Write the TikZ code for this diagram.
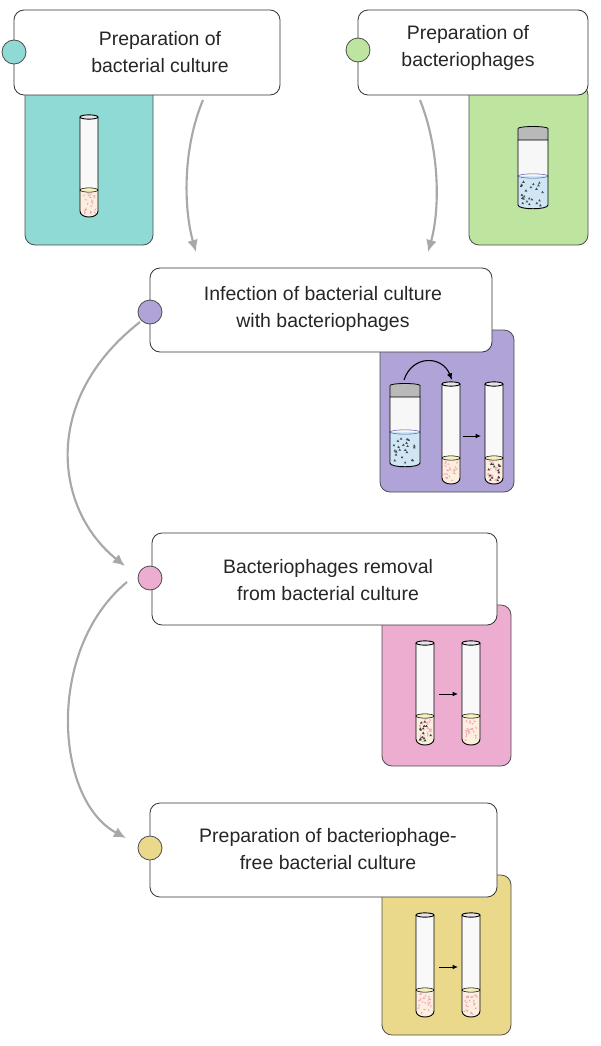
\documentclass[tikz,border=0pt]{standalone}
\usepackage{fontspec}
\usetikzlibrary{arrows.meta}
\setmainfont{Liberation Sans}
\definecolor{cteal}{HTML}{8FDAD5}
\definecolor{cgreen}{HTML}{BDE5A0}
\definecolor{cpurple}{HTML}{AFA3D8}
\definecolor{cpink}{HTML}{ECADD0}
\definecolor{cyellow}{HTML}{EAD98A}
\definecolor{cbact}{HTML}{F3A3C0}
\definecolor{cliq}{HTML}{FCEFDD}
\definecolor{cliqtop}{HTML}{F4F0C0}
\definecolor{cblue}{HTML}{CFE6F5}
\definecolor{carrow}{HTML}{A8A8A8}
\newcommand\tubeAt[6]{%
  \pgfmathsetmacro\tR{#1+#5}\pgfmathsetmacro\tBm{#3-7}\pgfmathsetmacro\tBc{#3+1}%
  \pgfmathsetmacro\tM{#1+#5/2}\pgfmathsetmacro\tH{#5/2}%
  \fill[gray!5] (#1,#2)--(#1,\tBm) .. controls (#1,\tBc) and (\tR,\tBc) .. (\tR,\tBm)--(\tR,#2)--cycle;
  \fill[cliq] (#1,#4)--(#1,\tBm) .. controls (#1,\tBc) and (\tR,\tBc) .. (\tR,\tBm)--(\tR,#4)--cycle;
  \foreach \i in {1,...,22}{\pgfmathsetmacro\dx{#1+2.5+rnd*(#5-5)}\pgfmathsetmacro\dy{#4+3+rnd*(#3-#4-7)}
    \fill[cbact,rotate around={rnd*180:(\dx,\dy)}] (\dx,\dy) ellipse[x radius=1.1pt,y radius=0.5pt];}
  \ifnum#6=1 \foreach \i in {1,...,14}{\pgfmathsetmacro\dx{#1+3+rnd*(#5-6)}\pgfmathsetmacro\dy{#4+4+rnd*(#3-#4-9)}
    \fill[black!75] (\dx,\dy)--++(1.3,2.2)--++(-2.6,0)--cycle;}\fi
  \draw[fill=cliqtop,line width=0.4pt] (\tM,#4) ellipse[x radius=\tH*0.75pt,y radius=1.6pt];
  \draw[line width=0.7pt] (#1,#2)--(#1,\tBm) .. controls (#1,\tBc) and (\tR,\tBc) .. (\tR,\tBm)--(\tR,#2);
  \draw[line width=0.7pt,fill=gray!20] (\tM,#2) ellipse[x radius=\tH*0.75pt,y radius=1.6pt];
}
\newcommand\jarAt[5]{%
  \pgfmathsetmacro\tR{#1+#5}\pgfmathsetmacro\tM{#1+#5/2}\pgfmathsetmacro\tH{#5/2}%
  \pgfmathsetmacro\tC{#2+13}\pgfmathsetmacro\tBm{#3-3}%
  \fill[gray!6] (#1,\tC) rectangle (\tR,#4);
  \fill[cblue] (#1,#4)--(#1,\tBm) .. controls (#1,#3+2) and (\tR,#3+2) .. (\tR,\tBm)--(\tR,#4)--cycle;
  \foreach \i in {1,...,22}{\pgfmathsetmacro\dx{#1+3+rnd*(#5-6)}\pgfmathsetmacro\dy{#4+4+rnd*(#3-#4-8)}
    \fill[black!70] (\dx,\dy)--++(1.3,2.3)--++(-2.6,0)--cycle;}
  \draw[fill=gray!55,line width=0.6pt] (#1,#2+1.5)--(#1,\tC)--(\tR,\tC)--(\tR,#2+1.5) arc[start angle=0,end angle=180,x radius=\tH*0.75pt,y radius=1.5pt];
  \draw[line width=0.4pt,blue!30!gray] (\tM,#4) ellipse[x radius=\tH*0.75pt,y radius=1.6pt];
  \draw[line width=0.7pt] (#1,\tC)--(#1,\tBm) .. controls (#1,#3+2) and (\tR,#3+2) .. (\tR,\tBm)--(\tR,\tC);
}
\begin{document}
\begin{tikzpicture}[x=0.75pt,y=-0.75pt,
  panel/.style={draw=black!70,line width=0.6pt,rounded corners=7.5pt},
  tbox/.style={draw=black!80,fill=white,line width=0.6pt,rounded corners=7.5pt},
  dot/.style={circle,draw=black!70,line width=0.6pt,minimum size=18pt,inner sep=0pt},
  lbl/.style={align=center,font=\fontsize{14.6pt}{20.5pt}\selectfont,text=black!85},
  flow/.style={draw=carrow,line width=1.6pt,-{Latex[length=9pt,width=8pt]}}]
\useasboundingbox (0,0) rectangle (600,1046);
\pgfmathsetseed{7}
% panels
\draw[panel,fill=cteal] (25,85) rectangle (153,245);
\draw[panel,fill=cgreen] (469,85) rectangle (588,245);
\draw[panel,fill=cpurple] (380,330) rectangle (514,492);
\draw[panel,fill=cpink] (382,605) rectangle (511,766);
\draw[panel,fill=cyellow] (382,875) rectangle (511,1035);
% boxes
\draw[tbox] (14,10) rectangle (280,95) node[pos=.5] (b1) {};
\draw[tbox] (358,10) rectangle (588,95) node[pos=.5] (b2) {};
\draw[tbox] (150,268) rectangle (492,352) node[pos=.5] (b3) {};
\draw[tbox] (152,533) rectangle (497,625) node[pos=.5] (b4) {};
\draw[tbox] (150,803) rectangle (497,897) node[pos=.5] (b5) {};
\node[lbl] (t1) at (160,52) {Preparation of\\bacterial culture};
\node[lbl] (t2) at (468,48) {Preparation of\\bacteriophages};
\node[lbl] (t3) at (323,309) {Infection of bacterial culture\\with bacteriophages};
\node[lbl] (t4) at (328,580) {Bacteriophages removal\\from bacterial culture};
\node[lbl] (t5) at (328,849) {Preparation of bacteriophage-\\free bacterial culture};
\node[dot,fill=cteal] (d1) at (14,52) {};
\node[dot,fill=cgreen] (d2) at (358,50) {};
\node[dot,fill=cpurple] (d3) at (150,312) {};
\node[dot,fill=cpink] (d4) at (150,578) {};
\node[dot,fill=cyellow] (d5) at (150,848) {};
% tubes
\tubeAt{80}{117}{218}{190}{18}{0}
\jarAt{518}{127}{208}{176}{30}
\jarAt{390}{384}{466}{432}{30}
\tubeAt{442}{384}{485}{458}{18}{0}
\tubeAt{485}{384}{485}{458}{18}{1}
\tubeAt{416}{643}{746}{716}{18}{1}
\tubeAt{462}{643}{746}{716}{18}{0}
\tubeAt{416}{915}{1018}{990}{18}{0}
\tubeAt{462}{915}{1018}{990}{18}{0}
\coordinate (ja) at (404,380); \coordinate (jb) at (452,380);
\draw[line width=0.8pt,-{Latex[length=5pt,width=4pt]}] (ja) .. controls (412,355) and (442,355) .. (jb);
\coordinate (s1) at (463,436); \coordinate (s2) at (481,436);
\draw[line width=0.7pt,-{Latex[length=4pt,width=3.5pt]}] (s1)--(s2);
\coordinate (s3) at (439,694); \coordinate (s4) at (458,694);
\draw[line width=0.7pt,-{Latex[length=4pt,width=3.5pt]}] (s3)--(s4);
\coordinate (s5) at (439,967); \coordinate (s6) at (458,967);
\draw[line width=0.7pt,-{Latex[length=4pt,width=3.5pt]}] (s5)--(s6);
% flow arrows
\coordinate (a1) at (203,100); \coordinate (a1e) at (196,252);
\draw[flow] (a1) .. controls (182,150) and (184,210) .. (a1e);
\coordinate (a2) at (420,100); \coordinate (a2e) at (428,252);
\draw[flow] (a2) .. controls (440,150) and (440,210) .. (a2e);
\coordinate (a3) at (140,322); \coordinate (a3e) at (125,566);
\draw[flow] (a3) .. controls (40,400) and (55,510) .. (a3e);
\coordinate (a4) at (127,582); \coordinate (a4e) at (126,838);
\draw[flow] (a4) .. controls (45,650) and (55,800) .. (a4e);
\end{tikzpicture}
\end{document}
